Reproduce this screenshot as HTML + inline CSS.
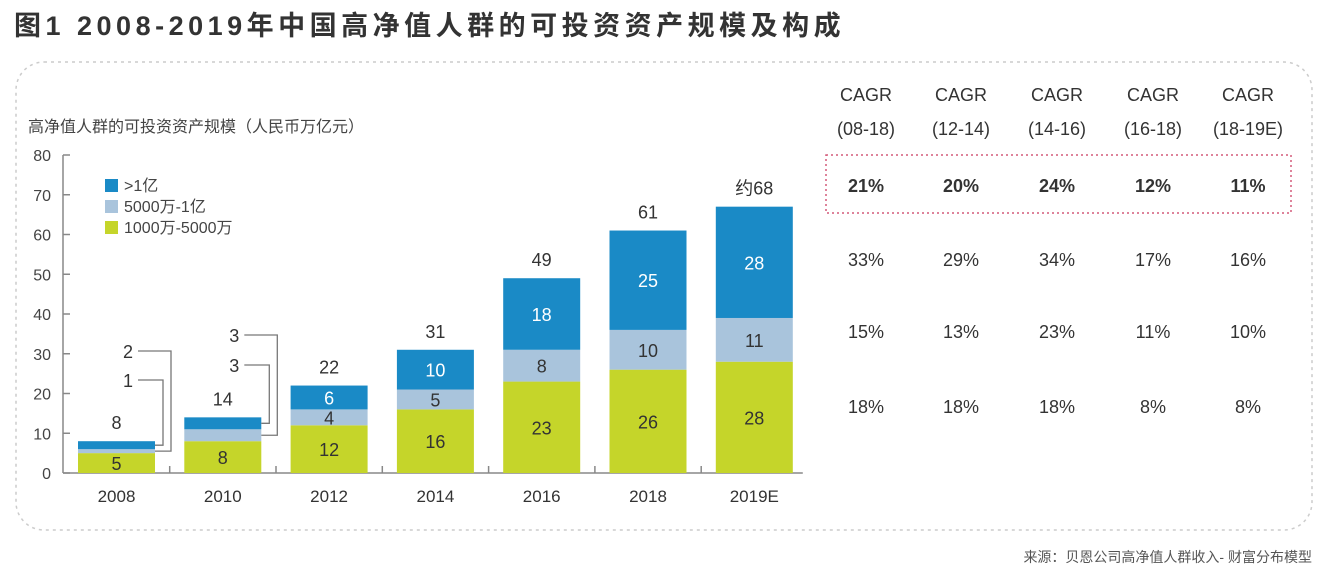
<!DOCTYPE html>
<html><head><meta charset="utf-8"><style>
body{margin:0;width:1334px;height:578px;background:#fff;overflow:hidden;font-family:"Liberation Sans","Noto Sans CJK SC",sans-serif;}
</style></head><body>
<svg width="1334" height="578" style="position:absolute;left:0;top:0">
<text x="14" y="35" font-size="27" font-weight="bold" letter-spacing="4.5" fill="#333" font-family="Liberation Sans, Noto Sans CJK SC, sans-serif">图1  2008-2019年中国高净值人群的可投资资产规模及构成</text>
<rect x="16" y="62" width="1296" height="468" rx="28" fill="none" stroke="#ccc" stroke-width="1.5" stroke-dasharray="3,4"/>
<text x="28" y="132" font-size="16" fill="#444">高净值人群的可投资资产规模（人民币万亿元）</text>
<g id="plot"></g>
<g id="legend">
<rect x="105" y="179" width="13" height="13" fill="#1a8ac6"/><text x="124" y="191" font-size="16" fill="#444">&gt;1亿</text>
<rect x="105" y="200" width="13" height="13" fill="#a9c4dc"/><text x="124" y="212" font-size="16" fill="#444">5000万-1亿</text>
<rect x="105" y="221" width="13" height="13" fill="#c5d52a"/><text x="124" y="233" font-size="16" fill="#444">1000万-5000万</text>
</g>
<g id="table"></g>
<rect x="826" y="155" width="465" height="58" fill="none" stroke="#d45a7a" stroke-width="1.5" stroke-dasharray="2,3"/>
<text x="1312" y="562" font-size="14" fill="#555" text-anchor="end">来源：贝恩公司高净值人群收入- 财富分布模型</text>
</svg>
<script>
const categories=["2008","2010","2012","2014","2016","2018","2019E"];
const low=[5,8,12,16,23,26,28];
const mid=[1,3,4,5,8,10,11];
const high=[2,3,6,10,18,25,28];
const totals=["8","14","22","31","49","61","约68"];
const yTicks=[0,10,20,30,40,50,60,70,80];
const cagrHeads=["(08-18)","(12-14)","(14-16)","(16-18)","(18-19E)"];
const cagrTotal=["21%","20%","24%","12%","11%"];
const cagrHigh=["33%","29%","34%","17%","16%"];
const cagrMid=["15%","13%","23%","11%","10%"];
const cagrLow=["18%","18%","18%","8%","8%"];
const NS="http://www.w3.org/2000/svg";
const g=document.getElementById('plot'),tb=document.getElementById('table');
const x0=63,y0=473,ppu=(473-155)/80,step=106.3,bw=77,first=78;
const y=v=>y0-v*ppu, bx=i=>first+i*step;
function mk(p,tag,a,txt){const e=document.createElementNS(NS,tag);for(const k in a)e.setAttribute(k,a[k]);if(txt!==undefined)e.textContent=txt;p.appendChild(e);return e;}
let e=mk(g,'line',{x1:x0,y1:y(0),x2:x0,y2:y(80),stroke:'#888','stroke-width':1.5});

e=mk(g,'line',{x1:x0,y1:y0,x2:bx(6)+bw+10,y2:y0,stroke:'#888','stroke-width':1.5});

yTicks.forEach(t=>{
 mk(g,'line',{x1:x0,y1:y(t),x2:x0+7,y2:y(t),stroke:'#888','stroke-width':1.5});
 e=mk(g,'text',{x:x0-12,y:y(t)+6,'font-size':16,fill:'#444','text-anchor':'end'},t);
 
});
categories.forEach((c,i)=>{
 const L=bx(i);
 if(i>0)mk(g,'line',{x1:L-14.6,y1:y0,x2:L-14.6,y2:y0-7,stroke:'#888','stroke-width':1.5});
 const segs=[[0,low[i],'#c5d52a','bar-low'],[low[i],low[i]+mid[i],'#a9c4dc','bar-mid'],[low[i]+mid[i],low[i]+mid[i]+high[i],'#1a8ac6','bar-high']];
 segs.forEach(s=>{e=mk(g,'rect',{x:L,y:y(s[1]),width:bw,height:y(s[0])-y(s[1]),fill:s[2]});
  });
 const cx=L+bw/2,tot=low[i]+mid[i]+high[i];
 e=mk(g,'text',{x:cx,y:y0+29,'font-size':17,fill:'#333','text-anchor':'middle'},c);
 
 e=mk(g,'text',{x:cx,y:y(tot)-12,'font-size':18,fill:'#333','text-anchor':'middle'},totals[i]);
 
 e=mk(g,'text',{x:cx,y:y(low[i]/2)+7,'font-size':18,fill:'#333','text-anchor':'middle'},low[i]);
 
 if(i>=2){
  e=mk(g,'text',{x:cx,y:y(low[i]+mid[i]/2)+7,'font-size':18,fill:'#333','text-anchor':'middle'},mid[i]);
  
  e=mk(g,'text',{x:cx,y:y(low[i]+mid[i]+high[i]/2)+7,'font-size':18,fill:'#fff','text-anchor':'middle'},high[i]);
  
 } else {
  const R=L+bw, tx=L+bw-15;
  const ym=y(low[i]+mid[i]/2), yh=y(low[i]+mid[i]+high[i]/2);
  [[mid[i],i==0?380:365,yh,R+8],[high[i],i==0?351:335,ym,R+16]].forEach(a=>{
   e=mk(g,'text',{x:tx-12,y:a[1]+7,'font-size':18,fill:'#333','text-anchor':'middle'},a[0]);
   
   e=mk(g,'polyline',{points:`${tx-2},${a[1]} ${a[3]},${a[1]} ${a[3]},${a[2]} ${R},${a[2]}`,fill:'none',stroke:'#777','stroke-width':1.3});
   
  });
 }
});
const cols=[866,961,1057,1153,1248];
cols.forEach((cx,j)=>{
 const rows=[["CAGR",101,'normal','header'],[cagrHeads[j],135,'normal','header'],[cagrTotal[j],192,'bold','cagr-total'],[cagrHigh[j],266,'normal','cagr-high'],[cagrMid[j],338,'normal','cagr-mid'],[cagrLow[j],413,'normal','cagr-low']];
 rows.forEach(r=>{e=mk(tb,'text',{x:cx,y:r[1],'font-size':18,'font-weight':r[2],fill:'#333','text-anchor':'middle'},r[0]);
  });
});
</script>
</body></html>
